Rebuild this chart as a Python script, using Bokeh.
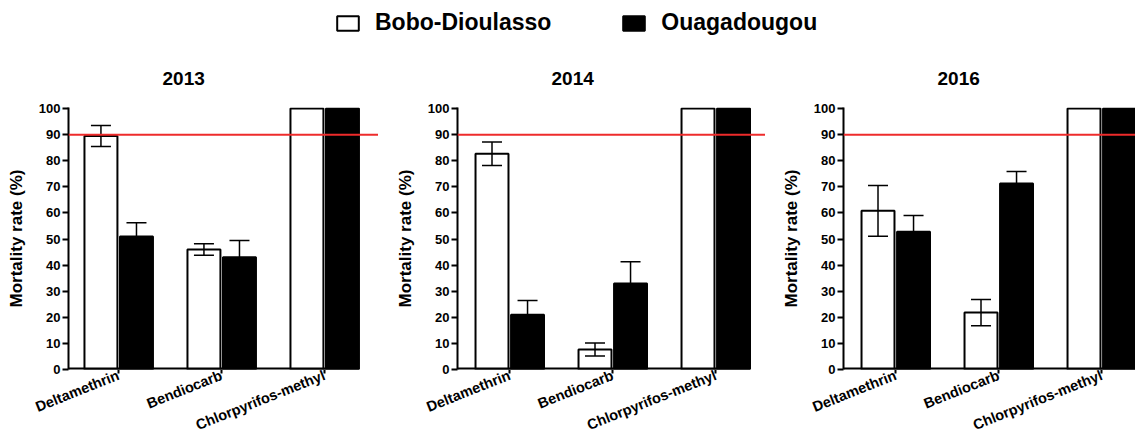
from bokeh.plotting import figure
from bokeh.layouts import column, row
from bokeh.models import (ColumnDataSource, Range1d, FixedTicker, Span, Whisker, TeeHead,
                          Legend, LegendItem)
from bokeh.embed import file_html
from bokeh.resources import INLINE
import numpy as np

# ---------------- data ----------------
categories = ["Deltamethrin", "Bendiocarb", "Chlorpyrifos-methyl"]
years = ["2013", "2014", "2016"]
series_names = ["Bobo-Dioulasso", "Ouagadougou"]

bobo_2013 = [89.5, 46.0, 100]
bobo_err_2013 = [4.0, 2.2, 0]
ouaga_2013 = [51.0, 43.0, 100]
ouaga_err_2013 = [5.2, 6.4, 0]

bobo_2014 = [82.7, 7.7, 100]
bobo_err_2014 = [4.5, 2.5, 0]
ouaga_2014 = [21.0, 33.0, 100]
ouaga_err_2014 = [5.4, 8.3, 0]

bobo_2016 = [60.8, 21.8, 100]
bobo_err_2016 = [9.7, 5.0, 0]
ouaga_2016 = [52.8, 71.3, 100]
ouaga_err_2016 = [6.2, 4.6, 0]

threshold = 90
y_ticks = list(range(0, 101, 10))

panels_data = [
    (years[0], bobo_2013, bobo_err_2013, ouaga_2013, ouaga_err_2013),
    (years[1], bobo_2014, bobo_err_2014, ouaga_2014, ouaga_err_2014),
    (years[2], bobo_2016, bobo_err_2016, ouaga_2016, ouaga_err_2016),
]

FONT = "Liberation Sans"
PX_PER_UNIT = 103.0
BAR_W = 0.32
OFF_W = -0.17
OFF_B = 0.175

# panel geometry: (figure width, left border, x start)
geom = [(378, 68, 0.515), (387, 79, 0.495), (370, 78, 0.495)]
LEG_H = 45
PANEL_H = 399
TOP_B = 62
BOT_B = 75


def make_panel(year, bv, be, ov, oe, fw, lb, xs):
    frame_w = fw - lb
    xe = xs + frame_w / PX_PER_UNIT
    p = figure(width=fw, height=PANEL_H, output_backend="svg", toolbar_location=None,
               x_range=Range1d(xs, xe), y_range=Range1d(0, 100.4),
               min_border_left=lb, min_border_right=0, min_border_top=TOP_B,
               min_border_bottom=BOT_B, outline_line_color=None,
               background_fill_color="white", border_fill_color="white")
    x = np.arange(1, len(categories) + 1)
    src_w = ColumnDataSource(dict(x=x + OFF_W, top=bv))
    src_b = ColumnDataSource(dict(x=x + OFF_B, top=ov))
    p.vbar(x="x", top="top", width=BAR_W, bottom=0, source=src_w,
           fill_color="white", line_color="black", line_width=2)
    p.vbar(x="x", top="top", width=BAR_W, bottom=0, source=src_b,
           fill_color="black", line_color="black", line_width=2)

    # x baseline: from the axis to the right edge of the last bar
    p.segment(x0=[xs], x1=[x[-1] + OFF_B + BAR_W / 2], y0=[0], y1=[0],
              line_color="black", line_width=4)

    for xoff, vals, errs in ((OFF_W, bv, be), (OFF_B, ov, oe)):
        keep = [i for i, e in enumerate(errs) if e > 0]
        ws = ColumnDataSource(dict(
            x=[x[i] + xoff for i in keep],
            upper=[vals[i] + errs[i] for i in keep],
            lower=[vals[i] - errs[i] for i in keep]))
        w = Whisker(source=ws, base="x", upper="upper", lower="lower",
                    line_color="black", line_width=1.5, level="overlay",
                    upper_head=TeeHead(size=20, line_color="black", line_width=1.5),
                    lower_head=TeeHead(size=20, line_color="black", line_width=1.5))
        p.add_layout(w)

    p.add_layout(Span(location=threshold, dimension="width", line_color="#ee2b2b",
                      line_width=2, level="overlay"))

    p.xgrid.visible = False
    p.ygrid.visible = False

    p.xaxis.ticker = FixedTicker(ticks=list(x))
    p.xaxis.major_label_overrides = {int(i): c for i, c in zip(x, categories)}
    p.xaxis.major_label_orientation = 0.38
    p.xaxis.major_label_text_font = FONT
    p.xaxis.major_label_text_font_style = "bold"
    p.xaxis.major_label_text_font_size = "14.5px"
    p.xaxis.major_label_text_color = "black"
    p.xaxis.axis_line_color = None
    p.xaxis.major_tick_out = 4
    p.xaxis.major_tick_in = 0
    p.xaxis.minor_tick_line_color = None
    p.xaxis.major_tick_line_width = 2
    p.xaxis.major_label_standoff = 1

    p.yaxis.ticker = FixedTicker(ticks=y_ticks)
    p.yaxis.axis_label = "Mortality rate (%)"
    p.yaxis.axis_label_text_font = FONT
    p.yaxis.axis_label_text_font_style = "bold"
    p.yaxis.axis_label_text_font_size = "17px"
    p.yaxis.axis_label_text_color = "black"
    p.yaxis.axis_label_standoff = 10
    p.yaxis.major_label_text_font = FONT
    p.yaxis.major_label_text_font_style = "bold"
    p.yaxis.major_label_text_font_size = "13px"
    p.yaxis.major_label_text_color = "black"
    p.yaxis.major_tick_out = 6
    p.yaxis.major_tick_in = 0
    p.yaxis.minor_tick_line_color = None
    p.yaxis.axis_line_width = 2
    p.yaxis.major_tick_line_width = 2
    p.yaxis.major_label_standoff = 2

    p.title.text = year
    p.title.align = "left"
    p.title.offset = 94
    p.title.text_font = FONT
    p.title.text_font_style = "bold"
    p.title.text_font_size = "19px"
    p.title.text_color = "black"
    p.title.standoff = 46
    return p


panels = []
for (year, bv, be, ov, oe), (fw, lb, xs) in zip(panels_data, geom):
    panels.append(make_panel(year, bv, be, ov, oe, fw, lb, xs))

# ---------------- legend strip ----------------
lf = figure(width=1135, height=LEG_H, output_backend="svg", toolbar_location=None,
            x_range=Range1d(0, 1), y_range=Range1d(0, 1), min_border=0,
            outline_line_color=None, background_fill_color="white",
            border_fill_color="white")
lf.axis.visible = False
lf.grid.visible = False
# hidden dummy bars so that the legend swatches get their styles
rw = lf.vbar(x=[-10], top=[-5], bottom=[-6], width=0.1, fill_color="white",
             line_color="black", line_width=2, visible=False)
rb = lf.vbar(x=[-10], top=[-5], bottom=[-6], width=0.1, fill_color="black",
             line_color="black", line_width=2, visible=False)
leg = Legend(items=[LegendItem(label=series_names[0], renderers=[rw]),
                    LegendItem(label=series_names[1], renderers=[rb])],
             orientation="horizontal", location=(334, 9),
             glyph_width=27, glyph_height=18, label_height=18,
             label_standoff=14, spacing=69, padding=0, margin=0,
             border_line_color=None, background_fill_alpha=0,
             label_text_font=FONT, label_text_font_style="bold",
             label_text_font_size="23px", label_text_color="black")
lf.add_layout(leg)

layout = column(lf, row(*panels, spacing=0), spacing=0)

with open("out.html", "w") as f:
    f.write(file_html(layout, INLINE))
